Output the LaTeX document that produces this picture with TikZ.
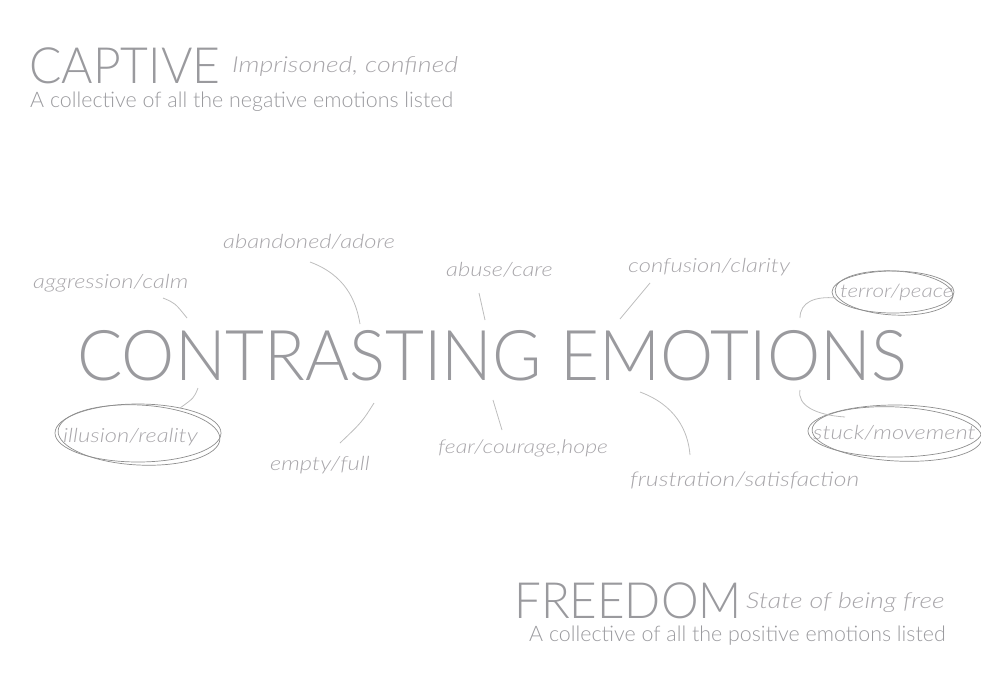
\documentclass[tikz,border=0pt]{standalone}
\usepackage{fontspec}
\setmainfont{Liberation Sans}
\newfontfamily\thin{Lato Light}
\newfontfamily\thinc{Lato Light}[FakeStretch=0.96]
\newfontfamily\thinf{Lato Light}[FakeStretch=0.95]
\newfontfamily\hand{Lato Light Italic}[FakeStretch=1.22]
\definecolor{txt}{HTML}{9A9A9E}
\definecolor{htxt}{HTML}{A8A6AA}
\definecolor{ln}{HTML}{BDBDBD}
\definecolor{ov}{HTML}{8E8E8E}
\tikzset{
  big/.style={inner sep=0, anchor=base west, text=txt, font=\thinc\fontsize{70}{70}\selectfont},
  title/.style={inner sep=0, anchor=base west, text=txt, font=\thinc\fontsize{50}{50}\selectfont},
  sub/.style={inner sep=0, anchor=base west, text=txt, font=\thin\fontsize{21.4}{21.4}\selectfont},
  lab/.style={inner sep=0, anchor=base west, text=htxt, font=\hand\fontsize{19.5}{19.5}\selectfont},
  tag/.style={inner sep=0, anchor=base west, text=htxt, font=\hand\fontsize{22}{22}\selectfont},
  conn/.style={draw=ln, line width=0.8pt},
  ring/.style={draw=ov, line width=0.7pt}
}
\begin{document}
\begin{tikzpicture}[x=1pt,y=-1pt]
\useasboundingbox (0,0) rectangle (981,693);
% titles
\node[title] (captive) at (29,83) {CAPTIVE};
\node[tag] (impr) at (232,72) {Imprisoned, confined};
\node[sub] (neg) at (30,107) {A collective of all the negative emotions listed};
\node[big] (main) at (77,380) {CONTRASTING EMOTIONS};
\node[title, font=\thinf\fontsize{50}{50}\selectfont] (freedom) at (514,618) {FREEDOM};
\node[tag] (state) at (746,608) {State of being free};
\node[sub] (pos) at (529,641) {A collective of all the positive emotions listed};
% labels
\node[lab] (aggr) at (33,288) {aggression/calm};
\node[lab] (aband) at (223,248) {abandoned/adore};
\node[lab] (abuse) at (446,276) {abuse/care};
\node[lab] (conf) at (628,272) {confusion/clarity};
\node[lab, font=\hand\fontsize{18.5}{18.5}\selectfont] (terror) at (840,297) {terror/peace};
\node[lab] (illus) at (63,442) {illusion/reality};
\node[lab] (empty) at (270,470) {empty/full};
\node[lab, font=\hand\fontsize{19}{19}\selectfont] (fear) at (438,453) {fear/courage,hope};
\node[lab, font=\hand\fontsize{20.3}{20.3}\selectfont] (frus) at (630,486) {frustration/satisfaction};
\node[lab] (stuck) at (813,439) {stuck/movement};
% ellipses
\draw[ring] (893,292) ellipse [x radius=61, y radius=21];
\draw[ring, rotate around={-3:(894,293)}] (894,293) ellipse [x radius=59, y radius=22];
\draw[ring] (138,433) ellipse [x radius=83, y radius=29];
\draw[ring, rotate around={-3:(139,435)}] (139,435) ellipse [x radius=81, y radius=30];
\draw[ring] (895,431) ellipse [x radius=87, y radius=26];
\draw[ring, rotate around={-3:(897,434)}] (897,434) ellipse [x radius=85, y radius=27];
% connector end points
\coordinate (a1) at (163,298); \coordinate (a2) at (187,318);
\coordinate (b1) at (310,262); \coordinate (b2) at (360,324);
\coordinate (c1) at (479,293); \coordinate (c2) at (485,320);
\coordinate (d1) at (650,283); \coordinate (d2) at (620,319);
\coordinate (e1) at (836,298); \coordinate (e2) at (800,318);
\coordinate (f1) at (198,388); \coordinate (f2) at (180,408);
\coordinate (g1) at (374,403); \coordinate (g2) at (340,443);
\coordinate (h1) at (493,400); \coordinate (h2) at (502,430);
\coordinate (i1) at (640,392); \coordinate (i2) at (690,455);
\coordinate (j1) at (800,390); \coordinate (j2) at (845,417);
\draw[conn] (a1) .. controls (175,303) .. (a2);
\draw[conn] (b1) .. controls (345,275) and (356,300) .. (b2);
\draw[conn] (c1) -- (c2);
\draw[conn] (d1) -- (d2);
\draw[conn] (e1) .. controls (815,296) and (800,302) .. (e2);
\draw[conn] (f1) .. controls (194,398) .. (f2);
\draw[conn] (g1) .. controls (362,422) .. (g2);
\draw[conn] (h1) -- (h2);
\draw[conn] (i1) .. controls (675,405) and (688,430) .. (i2);
\draw[conn] (j1) .. controls (797,405) and (815,415) .. (j2);
\end{tikzpicture}
\end{document}
